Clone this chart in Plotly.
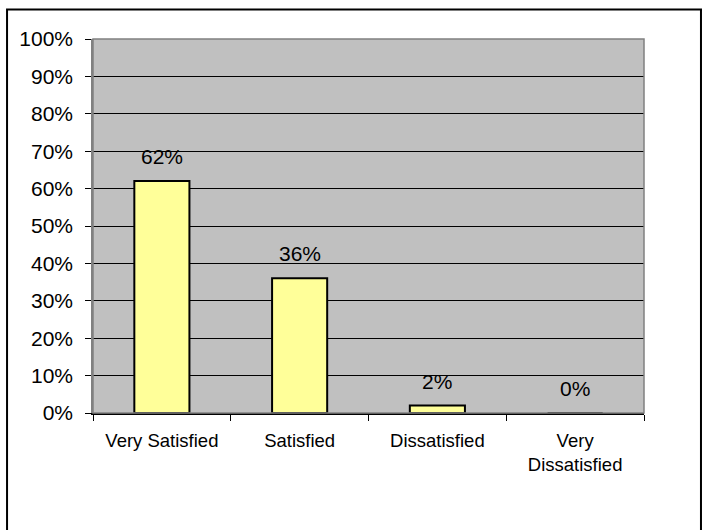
import plotly.graph_objects as go

# Survey satisfaction results
categories = ["Very Satisfied", "Satisfied", "Dissatisfied", "Very<br>Dissatisfied"]
shares = [0.62, 0.36, 0.02, 0.00]
value_labels = ["62%", "36%", "2%", "0%"]

FONT = "Arial, Liberation Sans, sans-serif"

fig = go.Figure()
fig.add_trace(go.Bar(
    x=categories,
    y=shares,
    width=0.4,
    marker=dict(color="#FFFF99", line=dict(color="black", width=2)),
    hoverinfo="skip",
))

# value labels above each bar
for cat, val, lab in zip(categories, shares, value_labels):
    fig.add_annotation(
        x=cat, y=val, text=lab, showarrow=False,
        xref="x", yref="y", yanchor="bottom", yshift=11,
        font=dict(family=FONT, size=21, color="black"),
    )

# outer chart frame and gray plot-area border
fig.add_shape(type="rect", xref="paper", yref="paper",
              x0=-0.156, x1=1.1034, y0=-0.33, y1=1.0789,
              line=dict(color="black", width=2), layer="below")
fig.add_shape(type="rect", xref="paper", yref="paper",
              x0=0, x1=1, y0=0, y1=1,
              line=dict(color="#808080", width=1.5), layer="above")

fig.update_layout(
    width=708, height=530,
    margin=dict(l=93, r=64, t=39, b=117),
    paper_bgcolor="white",
    plot_bgcolor="#C0C0C0",
    showlegend=False,
    bargap=0.6,
    font=dict(family=FONT, color="black"),
)
fig.update_yaxes(
    range=[0, 1], dtick=0.1, tickformat=".0%",
    showgrid=True, gridcolor="black", gridwidth=1,
    zeroline=False,
    showline=True, linecolor="#808080", linewidth=1.5,
    ticks="outside", ticklen=6, tickcolor="black",
    ticklabelstandoff=8,
    tickfont=dict(family=FONT, size=21, color="black"),
    fixedrange=True,
)
fig.update_xaxes(
    type="category",
    showline=True, linecolor="black", linewidth=2,
    ticks="outside", ticklen=6, tickcolor="black", tickson="boundaries",
    ticklabelstandoff=10,
    tickfont=dict(family=FONT, size=18.5, color="black"),
    showgrid=False,
    fixedrange=True,
)

fig.write_html("out.html")
